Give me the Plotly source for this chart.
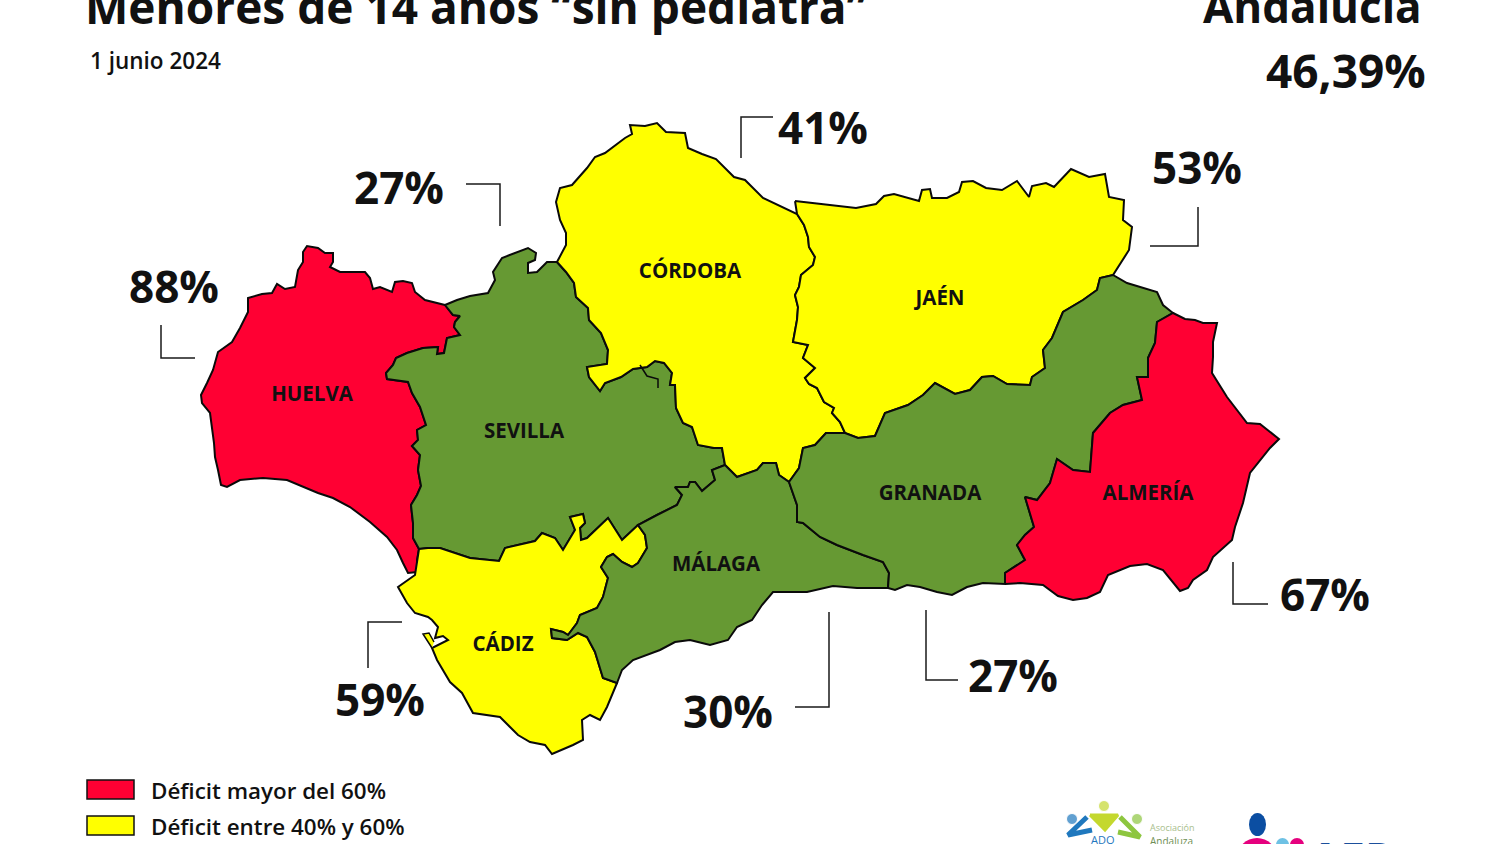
import plotly.graph_objects as go

# colours of the three deficit classes
ROJO = '#FF0033'
AMARILLO = '#FFFF00'
VERDE = '#669933'

# borders, shared ones are used by both provinces
huelva_sevilla = [(445, 305), (453, 315), (460, 316), (455, 322), (454, 327), (460, 335), (447, 338), (444, 353),
                  (437, 354), (438, 347), (423, 348), (407, 353), (396, 358), (393, 365), (386, 373), (387, 379),
                  (408, 382), (412, 393), (420, 407), (426, 425), (417, 430), (418, 440), (412, 446), (420, 455),
                  (418, 470), (421, 486), (417, 495), (411, 505), (413, 523), (413, 538), (419, 549)]
huelva_costa = [(417, 560), (417, 572), (408, 573), (403, 563), (397, 550), (387, 537), (370, 522), (350, 507),
                (333, 498), (318, 493), (303, 487), (287, 480), (263, 478), (240, 480), (227, 487), (221, 485),
                (218, 470), (215, 457), (214, 443), (212, 430), (210, 413), (202, 403), (201, 395), (207, 383),
                (213, 370), (218, 352), (232, 342), (240, 328), (248, 312), (248, 298), (262, 294), (272, 293),
                (277, 284), (285, 289), (295, 287), (298, 270), (303, 262), (303, 252), (307, 246), (318, 248),
                (325, 253), (333, 253), (333, 262), (330, 267), (340, 272), (353, 272), (365, 272), (370, 278),
                (373, 289), (380, 287), (392, 292), (395, 282), (403, 281), (412, 283), (415, 292), (425, 300),
                (437, 303)]
sevilla_norte = [(457, 300), (470, 296), (488, 293), (495, 280), (493, 272), (502, 258), (515, 253), (528, 248),
                 (536, 253), (535, 260), (528, 263), (528, 273), (537, 272), (547, 262)]
sevilla_cordoba = [(557, 262), (566, 272), (574, 283), (576, 297), (588, 308), (589, 320), (601, 333), (608, 350),
                   (607, 364), (587, 367), (589, 377), (600, 391), (605, 383), (621, 377), (633, 369), (647, 367),
                   (655, 361), (664, 363), (672, 373), (670, 385), (675, 385), (676, 408), (683, 423), (692, 427),
                   (698, 445), (714, 448), (722, 448), (725, 465)]
sevilla_malaga = [(712, 470), (715, 480), (702, 491), (695, 482), (690, 482), (688, 487), (675, 487), (682, 495),
                  (677, 505), (657, 515), (638, 525)]
sevilla_cadiz = [(622, 540), (608, 518), (603, 522), (587, 538), (581, 540), (580, 528), (585, 523), (583, 514),
                 (570, 517), (575, 530), (563, 550), (555, 538), (542, 533), (535, 541), (505, 548), (499, 561),
                 (470, 558), (440, 548), (428, 548), (419, 549)]
cadiz_malaga = [(638, 525), (645, 535), (647, 548), (638, 563), (632, 567), (622, 562), (613, 554), (607, 557),
                (601, 567), (608, 578), (603, 597), (597, 608), (580, 615), (577, 623), (568, 635), (563, 632),
                (551, 629), (552, 638), (567, 640), (578, 633), (587, 637), (595, 652), (603, 678), (617, 683)]
cadiz_costa = [(607, 707), (600, 720), (590, 715), (582, 720), (583, 740), (573, 745), (552, 754), (545, 745),
               (530, 742), (518, 735), (500, 717), (473, 713), (462, 693), (450, 682), (437, 660), (432, 648),
               (442, 643), (448, 640), (443, 636), (435, 638), (438, 627), (432, 620), (428, 617), (415, 613),
               (407, 603), (398, 587), (415, 575), (417, 563)]
cadiz_isla = [(432, 648), (425, 638), (423, 634), (429, 633), (434, 642)]
malaga_cordoba = [(725, 465), (737, 477), (757, 470), (763, 463), (776, 463), (779, 475), (789, 482)]
malaga_granada = [(789, 482), (797, 505), (797, 522), (803, 523), (820, 537), (837, 545), (863, 555), (883, 562),
                  (889, 573), (888, 588)]
malaga_costa = [(857, 588), (833, 586), (807, 592), (773, 592), (762, 605), (752, 620), (737, 627), (728, 640),
                (710, 645), (690, 640), (675, 642), (660, 650), (633, 660), (622, 670), (617, 683)]
granada_cordoba = [(789, 482), (799, 468), (803, 448), (815, 445), (826, 433), (845, 433)]
granada_jaen = [(845, 433), (858, 438), (875, 436), (885, 413), (908, 405), (923, 395), (935, 383), (955, 394),
                (970, 390), (982, 377), (993, 376), (1007, 384), (1030, 385), (1032, 377), (1045, 368), (1043, 350),
                (1052, 338), (1063, 312), (1083, 300), (1097, 290), (1100, 278), (1113, 275)]
granada_norte = [(1127, 283), (1157, 292), (1163, 305), (1173, 313)]
granada_almeria = [(1173, 313), (1157, 322), (1155, 343), (1148, 358), (1148, 377), (1137, 377), (1142, 400),
                   (1123, 405), (1110, 413), (1093, 433), (1090, 472), (1073, 470), (1057, 459), (1050, 483),
                   (1037, 500), (1025, 497), (1034, 527), (1025, 535), (1017, 545), (1025, 560), (1005, 573),
                   (1005, 584)]
granada_costa = [(983, 583), (967, 587), (952, 595), (937, 592), (920, 587), (907, 585), (895, 590), (888, 588)]
almeria_costa = [(1185, 319), (1195, 320), (1203, 323), (1217, 323), (1213, 342), (1213, 357), (1212, 373),
                 (1227, 397), (1247, 423), (1260, 424), (1279, 439), (1270, 448), (1250, 473), (1243, 503),
                 (1235, 527), (1232, 540), (1213, 557), (1207, 570), (1193, 580), (1188, 588), (1180, 591),
                 (1163, 570), (1147, 564), (1130, 566), (1108, 575), (1100, 592), (1087, 598), (1073, 600),
                 (1058, 596), (1043, 585), (1020, 583)]
jaen_cordoba = [(845, 433), (840, 422), (832, 413), (834, 408), (824, 402), (817, 388), (809, 384), (805, 378),
                (815, 368), (803, 358), (808, 345), (793, 342), (797, 320), (798, 307), (795, 295), (799, 287),
                (801, 275), (813, 265), (815, 257), (809, 247), (808, 237), (804, 225), (797, 214)]
jaen_norte = [(795, 201), (820, 204), (856, 208), (876, 204), (884, 196), (894, 194), (919, 201), (922, 190),
              (930, 189), (932, 198), (947, 198), (959, 192), (962, 182), (973, 181), (986, 188), (1002, 190),
              (1017, 181), (1029, 197), (1032, 186), (1046, 183), (1054, 187), (1071, 169), (1089, 177),
              (1105, 174), (1109, 197), (1124, 200), (1123, 220), (1132, 227), (1129, 250), (1113, 275)]
cordoba_norte = [(777, 205), (763, 198), (745, 180), (734, 177), (716, 159), (702, 154), (688, 148), (685, 133),
                 (666, 132), (657, 123), (645, 126), (630, 125), (632, 134), (625, 138), (605, 153), (595, 157),
                 (587, 168), (572, 185), (560, 188), (556, 202), (560, 220), (566, 233), (566, 245)]
rio_cordoba = [(640, 365), (647, 376), (658, 379), (658, 388)]

provincias = ['HUELVA', 'SEVILLA', 'CÓRDOBA', 'JAÉN', 'CÁDIZ', 'MÁLAGA', 'GRANADA', 'ALMERÍA']
colores = [ROJO, VERDE, AMARILLO, AMARILLO, AMARILLO, VERDE, VERDE, ROJO]
contornos = [
    huelva_sevilla + huelva_costa,
    huelva_sevilla + sevilla_cadiz[::-1] + sevilla_malaga[::-1] + sevilla_cordoba[::-1] + sevilla_norte[::-1],
    sevilla_cordoba + malaga_cordoba + granada_cordoba + jaen_cordoba + cordoba_norte,
    jaen_norte + granada_jaen[::-1] + jaen_cordoba,
    sevilla_cadiz[::-1] + sevilla_malaga[-1:] + cadiz_malaga + cadiz_costa,
    malaga_cordoba + malaga_granada + malaga_costa + cadiz_malaga[::-1] + sevilla_malaga[::-1],
    granada_cordoba + granada_jaen + granada_norte + granada_almeria + granada_costa + malaga_granada[::-1],
    granada_almeria[::-1] + almeria_costa,
]
etiqueta_x = [312, 524, 690, 940, 503, 716, 930, 1148]
etiqueta_y = [396, 433, 273, 300, 646, 566, 495, 495]

porcentajes = ['88%', '27%', '41%', '53%', '59%', '30%', '27%', '67%']
porcentaje_x = [174, 399, 823, 1197, 380, 728, 1013, 1325]
porcentaje_y = [292, 193, 133, 173, 705, 717, 681, 600]
guias = [
    [(161, 325), (161, 358), (195, 358)],
    [(466, 184), (500, 184), (500, 226)],
    [(741, 158), (741, 117), (773, 117)],
    [(1198, 207), (1198, 246), (1150, 246)],
    [(402, 622), (368, 622), (368, 668)],
    [(829, 612), (829, 707), (795, 707)],
    [(926, 610), (926, 680), (958, 680)],
    [(1233, 562), (1233, 604), (1268, 604)],
]

leyenda = ['Déficit mayor del 60%', 'Déficit entre 40% y 60%']
FUENTE = 'Open Sans'

fig = go.Figure()

for nombre, color, contorno in zip(provincias, colores, contornos):
    fig.add_trace(go.Scatter(x=[p[0] for p in contorno + contorno[:1]],
                             y=[p[1] for p in contorno + contorno[:1]],
                             mode='lines', fill='toself', fillcolor=color,
                             line=dict(color='#0A0A0A', width=2), name=nombre))

# small bits of the map
fig.add_trace(go.Scatter(x=[p[0] for p in cadiz_isla], y=[p[1] for p in cadiz_isla], mode='lines',
                         fill='toself', fillcolor=AMARILLO, line=dict(color='#0A0A0A', width=1.5)))
fig.add_trace(go.Scatter(x=[p[0] for p in rio_cordoba], y=[p[1] for p in rio_cordoba], mode='lines',
                         line=dict(color='#0A0A0A', width=1.5)))

for guia in guias:
    fig.add_trace(go.Scatter(x=[p[0] for p in guia], y=[p[1] for p in guia], mode='lines',
                             line=dict(color='#1A1A1A', width=1.5)))

fig.add_trace(go.Scatter(x=etiqueta_x, y=etiqueta_y, text=provincias, mode='text', cliponaxis=False,
                         textfont=dict(family=FUENTE, size=20.5, color='#111111', weight=700)))
fig.add_trace(go.Scatter(x=porcentaje_x, y=porcentaje_y, text=porcentajes, mode='text', cliponaxis=False,
                         textfont=dict(family=FUENTE, size=44, color='#111111', weight=700)))

# headline texts
fig.add_annotation(x=83, y=6, text='Menores de 14 años “sin pediatra”', xanchor='left', yanchor='middle',
                   showarrow=False, font=dict(family=FUENTE, size=46, color='#111111', weight=700))
fig.add_annotation(x=1424, y=6, text='Andalucía', xanchor='right', yanchor='middle',
                   showarrow=False, font=dict(family=FUENTE, size=44, color='#111111', weight=700))
fig.add_annotation(x=1428, y=70, text='46,39%', xanchor='right', yanchor='middle',
                   showarrow=False, font=dict(family=FUENTE, size=46, color='#111111', weight=700))
fig.add_annotation(x=88, y=60, text='1 junio 2024', xanchor='left', yanchor='middle',
                   showarrow=False, font=dict(family=FUENTE, size=22.5, color='#111111', weight=600))

# legend boxes
for y0, color, texto in zip([780, 816], [ROJO, AMARILLO], leyenda):
    fig.add_shape(type='rect', x0=87, x1=134, y0=y0, y1=y0 + 19, fillcolor=color,
                  line=dict(color='#111111', width=1.5))
    fig.add_annotation(x=149, y=y0 + 10, text=texto, xanchor='left', yanchor='middle', showarrow=False,
                       font=dict(family=FUENTE, size=22.4, color='#111111', weight=600))

# logos at the bottom, cut by the edge of the picture
fig.add_trace(go.Scatter(x=[1104, 1072, 1137], y=[806, 819, 819], mode='markers',
                         marker=dict(size=[11, 11, 11], color=['#C4D82E', '#1F78BE', '#8DC63F'])))
fig.add_trace(go.Scatter(x=[1090, 1118, 1105, 1090], y=[815, 815, 830, 815], mode='lines', fill='toself',
                         fillcolor='#C4D82E', line=dict(color='#C4D82E', width=3)))
fig.add_trace(go.Scatter(x=[1087, 1068, 1092], y=[817, 835, 830], mode='lines',
                         line=dict(color='#1F78BE', width=5)))
fig.add_trace(go.Scatter(x=[1120, 1140, 1118], y=[817, 837, 832], mode='lines',
                         line=dict(color='#8DC63F', width=5)))
fig.add_annotation(x=1103, y=839, text='ADQ', xanchor='center', yanchor='middle', showarrow=False,
                   font=dict(family=FUENTE, size=11, color='#1F78BE'))
fig.add_annotation(x=1148, y=827, text='Asociación', xanchor='left', yanchor='middle', showarrow=False,
                   font=dict(family=FUENTE, size=9, color='#A8BE8C'))
fig.add_annotation(x=1148, y=841, text='Andaluza', xanchor='left', yanchor='middle', showarrow=False,
                   font=dict(family=FUENTE, size=10, color='#6F8F55'))
fig.add_shape(type='circle', x0=1249, x1=1266, y0=813, y1=836, fillcolor='#0B4EA2', line_width=0)
fig.add_shape(type='circle', x0=1237, x1=1277, y0=838, y1=878, fillcolor='#E5007E', line_width=0)
fig.add_shape(type='circle', x0=1276, x1=1289, y0=838, y1=851, fillcolor='#6EC1E4', line_width=0)
fig.add_shape(type='circle', x0=1290, x1=1304, y0=838, y1=852, fillcolor='#E5007E', line_width=0)
fig.add_annotation(x=1351, y=826, text='AEP', xanchor='center', yanchor='top', showarrow=False,
                   font=dict(family=FUENTE, size=44, color='#1B4F9C', weight=700))

fig.update_xaxes(range=[0, 1500], visible=False, fixedrange=True)
fig.update_yaxes(range=[844, 0], visible=False, fixedrange=True)
fig.update_layout(width=1500, height=844, margin=dict(l=0, r=0, t=0, b=0), showlegend=False,
                  plot_bgcolor='white', paper_bgcolor='white', hovermode=False)

fig.write_html("out.html", config=dict(displayModeBar=False),
               post_script="document.body.style.margin='0';document.body.style.overflow='hidden';")
